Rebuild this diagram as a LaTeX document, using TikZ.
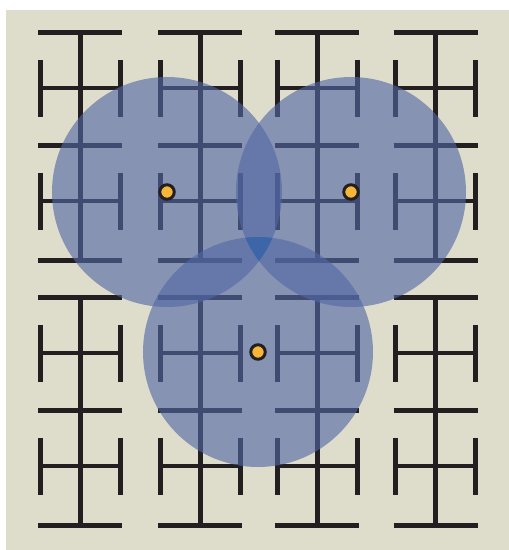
\documentclass[tikz,border=0pt]{standalone}
\usetikzlibrary{positioning}
\definecolor{paper}{RGB}{222,221,204}
\definecolor{wireblack}{RGB}{35,31,32}
\definecolor{coverblue}{RGB}{83,103,164}
\definecolor{coredeep}{RGB}{61,102,168}
\definecolor{probeorange}{RGB}{247,181,58}
\tikzset{
  wire/.style={line width=5pt, draw=wireblack},
  rung/.style={line width=4.5pt, draw=wireblack},
  cover/.style={fill=coverblue, fill opacity=0.62},
  probe/.style={circle, draw=wireblack, fill=probeorange, line width=3pt, minimum size=14.5pt, inner sep=0pt}
}

\begin{document}
\begin{tikzpicture}[x=1pt, y=-1pt]
  \useasboundingbox (0,0) rectangle (509,550);
  \fill[paper] (6,10) rectangle (509,550);
  % H-tree units, column centre and top edge
  \foreach \cx in {80,200,317,435.5}{
    \foreach \ty in {32,297}{
      \draw[wire] (\cx,\ty) -- (\cx,\ty+228);
      \draw[wire] (\cx-42,\ty) -- (\cx+42,\ty);
      \draw[wire] (\cx-42,\ty+113) -- (\cx+42,\ty+113);
      \draw[wire] (\cx-42,\ty+228) -- (\cx+42,\ty+228);
      \foreach \dy in {0,113}{
        \draw[wire] (\cx-40,\ty+\dy+28) -- (\cx-40,\ty+\dy+85);
        \draw[wire] (\cx+40,\ty+\dy+28) -- (\cx+40,\ty+\dy+85);
        \draw[rung] (\cx-40,\ty+\dy+56) -- (\cx+40,\ty+\dy+56);
      }
    }
  }
  % coverage discs
  \coordinate (cA) at (167,192);
  \coordinate (cB) at (351,192);
  \coordinate (cC) at (258,352);
  \fill[cover] (cA) circle[radius=115];
  \fill[cover] (cB) circle[radius=115];
  \fill[cover] (cC) circle[radius=115];
  \begin{scope}
    \clip (cA) circle[radius=115];
    \clip (cB) circle[radius=115];
    \fill[coredeep] (cC) circle[radius=115];
  \end{scope}
  \node[probe] (pA) at (cA) {};
  \node[probe] (pB) at (cB) {};
  \node[probe] (pC) at (cC) {};
\end{tikzpicture}
\end{document}
